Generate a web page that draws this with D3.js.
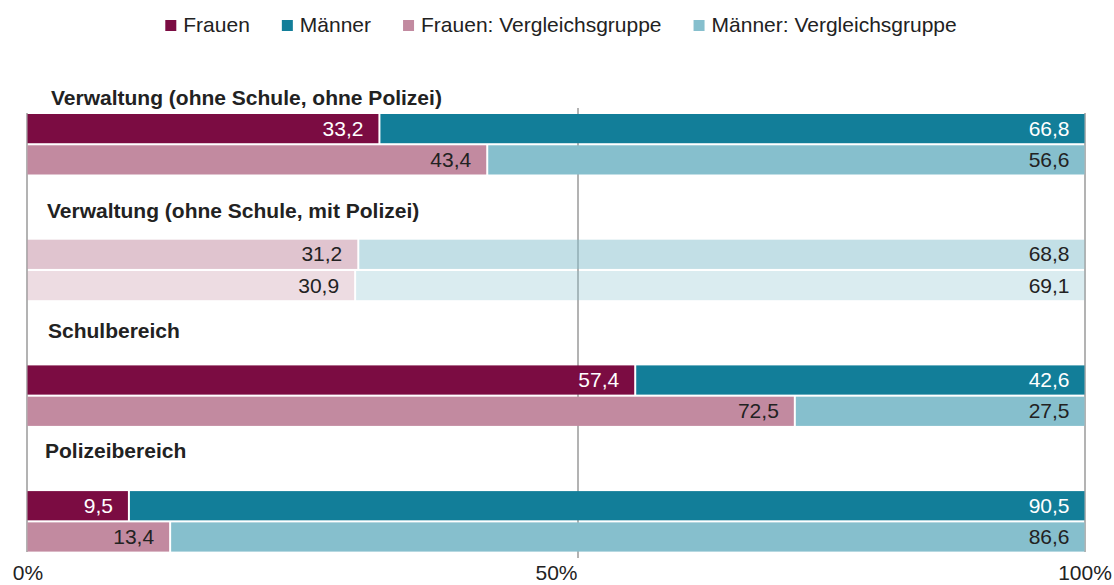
<!DOCTYPE html>
<html>
<head>
<meta charset="utf-8">
<script src="https://cdn.jsdelivr.net/npm/d3@7"></script>
<style>
  body { margin: 0; background: #fff; }
  text { font-family: "Liberation Sans", Arial, sans-serif; }
</style>
</head>
<body>
<div id="chart"></div>
<script>
// Frauenanteil nach Bereich, mit Vergleichsgruppe

const groups = [
    "Verwaltung (ohne Schule, ohne Polizei)",
    "Verwaltung (ohne Schule, mit Polizei)",
    "Schulbereich",
    "Polizeibereich"
];
const frauen = [33.2, 31.2, 57.4, 9.5];
const maenner = [66.8, 68.8, 42.6, 90.5];
const frauenVergleich = [43.4, 30.9, 72.5, 13.4];
const maennerVergleich = [56.6, 69.1, 27.5, 86.6];
const legendLabels = ["Frauen", "Männer", "Frauen: Vergleichsgruppe", "Männer: Vergleichsgruppe"];
const ticks = [0, 50, 100];

const width = 1114,
    height = 585,
    margin = ({ top: 114, right: 29.5, bottom: 34, left: 27.5 });

const colors = ["#7b0c42", "#127e99", "#c28aa0", "#86bfcd"];
const fadedGroup = groups[1]; // greyed-out group, drawn in comparison colours
const fadedOpacity = [0.5, 0.3];
// title placement per group (x, baseline offset from first bar)
const titlePos = [[51, -9], [47, -22], [48, -27], [45, -33]];

const svg = d3.select("#chart")
    .append("svg")
    .attr("width", width)
    .attr("height", height);

const x = d3.scaleLinear()
    .domain([0, 100])
    .range([margin.left, width - margin.right]);

const yGroup = d3.scaleBand()
    .domain(groups)
    .range([margin.top, margin.top + 4 * 125.7]);

const yRow = d3.scaleBand()
    .domain(["main", "vgl"])
    .range([0, 60.5])
    .paddingInner(0.066);

// rows built from the arrays
const rows = [];
groups.forEach((g, i) => {
    rows.push({ group: g, row: "main", f: frauen[i], m: maenner[i] });
    rows.push({ group: g, row: "vgl", f: frauenVergleich[i], m: maennerVergleich[i] });
});

// 50% grid line (sits a little right of the label, as in the original)
svg.append("line")
    .attr("x1", x(50) + 22)
    .attr("x2", x(50) + 22)
    .attr("y1", 108)
    .attr("y2", 558)
    .attr("stroke", "#9a9a9a")
    .attr("stroke-width", 1.5);

// frame lines left and right
[0, 100].forEach(v => {
    svg.append("line")
        .attr("x1", x(v) + (v === 0 ? -0.5 : 0.5))
        .attr("x2", x(v) + (v === 0 ? -0.5 : 0.5))
        .attr("y1", 113)
        .attr("y2", 552)
        .attr("stroke", "#a0a0a0")
        .attr("stroke-width", 1.6);
});

const rowG = svg.append("g")
    .selectAll("g")
    .data(rows)
    .join("g")
    .attr("transform", d => `translate(0,${yGroup(d.group) + yRow(d.row)})`);

function fillFor(d, sex) {
    if (d.row === "main" && d.group !== fadedGroup) return colors[sex];
    return colors[sex + 2];
}
function opacityFor(d) {
    if (d.group !== fadedGroup) return 1;
    return d.row === "main" ? fadedOpacity[0] : fadedOpacity[1];
}
function textFill(d) {
    return (d.row === "main" && d.group !== fadedGroup) ? "#fff" : "#222";
}

rowG.append("rect")
    .attr("x", x(0))
    .attr("width", d => x(d.f) - x(0))
    .attr("height", yRow.bandwidth())
    .attr("fill", d => fillFor(d, 0))
    .attr("fill-opacity", opacityFor);

rowG.append("rect")
    .attr("x", d => x(d.f) + 2)
    .attr("width", d => x(d.f + d.m) - x(d.f) - 2)
    .attr("height", yRow.bandwidth())
    .attr("fill", d => fillFor(d, 1))
    .attr("fill-opacity", opacityFor);

rowG.append("text")
    .attr("x", d => x(d.f) - 15)
    .attr("y", yRow.bandwidth() / 2 + 7)
    .attr("text-anchor", "end")
    .attr("font-size", 21)
    .attr("fill", textFill)
    .text(d => d3.format(".1f")(d.f).replace(".", ","));

rowG.append("text")
    .attr("x", d => x(d.f + d.m) - 15)
    .attr("y", yRow.bandwidth() / 2 + 7)
    .attr("text-anchor", "end")
    .attr("font-size", 21)
    .attr("fill", textFill)
    .text(d => d3.format(".1f")(d.m).replace(".", ","));

// group titles
svg.append("g")
    .selectAll("text")
    .data(groups)
    .join("text")
    .attr("x", (d, i) => titlePos[i][0])
    .attr("y", (d, i) => yGroup(d) + titlePos[i][1])
    .attr("font-size", 21)
    .attr("font-weight", "bold")
    .attr("fill", "#222")
    .text(d => d);

// x axis labels
svg.append("g")
    .attr("transform", `translate(0,555)`)
    .call(d3.axisBottom(x).tickValues(ticks).tickSize(0).tickPadding(10).tickFormat(d => d + "%"))
    .call(g => g.select(".domain").remove())
    .call(g => g.selectAll("text")
        .attr("font-size", 21)
        .attr("font-family", "Liberation Sans, Arial, sans-serif")
        .attr("fill", "#222"));

// legend, centred
const legend = svg.append("g");
const items = legend.selectAll("g")
    .data(legendLabels)
    .join("g");
items.append("rect")
    .attr("y", 20)
    .attr("width", 11)
    .attr("height", 11)
    .attr("fill", (d, i) => colors[i]);
items.append("text")
    .attr("x", 18)
    .attr("y", 31.5)
    .attr("font-size", 21)
    .attr("fill", "#222")
    .text(d => d);

let offset = 0;
const widths = [];
items.each(function () {
    const w = d3.select(this).select("text").node().getComputedTextLength() + 18;
    widths.push(w);
});
const total = d3.sum(widths) + 32 * (widths.length - 1);
offset = width / 2 + 4 - total / 2;
items.attr("transform", (d, i) => {
    const t = `translate(${offset},0)`;
    offset += widths[i] + 32;
    return t;
});
</script>
</body>
</html>
